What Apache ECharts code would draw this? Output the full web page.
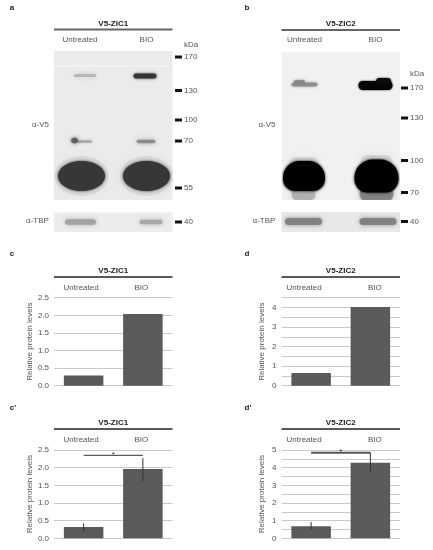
<!DOCTYPE html>
<html><head><meta charset="utf-8">
<style>html,body{margin:0;padding:0;background:#fff}#c{width:433px;height:550px}canvas{filter:blur(.35px)}</style>
<script src="https://cdn.jsdelivr.net/npm/echarts@6/dist/echarts.min.js"></script>
</head><body><div id="c"></div>
<script>
// ---- bar chart data ----
const categories = ['Untreated', 'BIO'];
const valuesC = [0.29, 2.04];
const valuesD = [0.65, 4.02];
const valuesCp = [0.32, 1.96];
const valuesDp = [0.68, 4.28];
const errorsCp = [[0.19, 0.425], [1.62, 2.27]];
const errorsDp = [[0.47, 0.92], [3.8, 4.85]];
const sigCp = [2.35];
const sigDp = [4.85];
// ---- blot data: [x, y, width, height, grey, alpha, blur, roundness] in gel units ----
const bandsAUpper = [
  [59, 15, 118, 1.5, 250, .5, 2, 1],
  [31, 24.5, 22, 3, 165, .7, 4, 1],
  [91, 25, 23, 5, 45, .9, 3, 1],
  [30, 90.5, 16, 2.5, 150, .7, 3, 1],
  [20.5, 89.5, 7, 6, 85, .85, 4, 0],
  [92, 90.5, 19, 3.5, 125, .8, 4, 1],
  [27.5, 125, 54, 40, 190, .35, 10, 0],
  [92.5, 125, 54, 40, 190, .35, 10, 0],
  [27.5, 125, 47, 30, 55, 1, 3, 0],
  [92.5, 125, 47, 30, 55, 1, 3, 0]
];
const bandsALower = [
  [26.5, 9.5, 31, 5.5, 160, .9, 4, 1],
  [97, 9.5, 23, 4.5, 165, .9, 4, 1]
];
const bandsBUpper = [
  [23, 32.5, 26, 4, 135, .85, 3, 1],
  [18, 30, 11, 4, 130, .85, 3, 1],
  [94, 33.5, 34, 9, 5, 1, 2, 1],
  [102, 29.5, 15, 7, 10, 1, 2, 1],
  [22, 142, 24, 14, 170, .8, 5, 1],
  [95, 142, 34, 16, 120, .8, 5, 1],
  [22.5, 112, 30, 14, 190, .5, 7, 1],
  [95, 110, 32, 14, 190, .5, 7, 1],
  [22.5, 124, 42, 30, 0, 1, 3, 2],
  [95, 124, 44, 33, 0, 1, 3, 2]
];
const bandsBLower = [
  [22, 9.5, 37, 7, 125, .9, 4, 1],
  [96.5, 9.5, 37, 7, 125, .9, 4, 1]
];
// ---- molecular-weight markers: [x, y, label] ----
const markersAUpper = [[124.5, 6, '170'], [124.5, 39.5, '130'], [124.5, 69, '100'], [124.5, 90, '70'], [124.5, 137, '55']];
const markersALower = [[124.5, 9.5, '40']];
const markersBUpper = [[123, 36, '170'], [123, 66, '130'], [123, 108.5, '100'], [123, 140.5, '70']];
const markersBLower = [[123, 9.5, '40']];

const FONT = 'Liberation Sans, Arial, sans-serif';
const TXT = '#555';
const grid = [], xAxis = [], yAxis = [], series = [], graphic = [], title = [];

function txt(x, y, s, o) {
  graphic.push({type: 'text', x, y, silent: true, style: Object.assign({
    text: s, font: '8px ' + FONT, fill: TXT, align: 'center', verticalAlign: 'middle'}, o || {})});
}
function header(x0, x1, y, s, col, lw) {
  graphic.push({type: 'line', silent: true, shape: {x1: x0, y1: y, x2: x1, y2: y},
    style: {stroke: col, lineWidth: lw}});
  title.push({text: s, left: (x0 + x1) / 2, top: y - 10.5, textAlign: 'center', padding: 0,
    textStyle: {fontFamily: FONT, fontSize: 8, fontWeight: 'bold', color: '#222', lineHeight: 9}});
}

function blot(x, y, w, h, bg, bands, markers) {
  const i = grid.length;
  grid.push({left: x, top: y, width: w, height: h, show: true, backgroundColor: bg, borderWidth: 0});
  xAxis.push({gridIndex: i, type: 'value', min: 0, max: w, show: false});
  yAxis.push({gridIndex: i, type: 'value', min: 0, max: h, inverse: true, show: false});
  series.push({
    type: 'custom', xAxisIndex: i, yAxisIndex: i, data: bands, silent: true, clip: true, z: 2,
    renderItem(p, api) {
      const c = api.coord([api.value(0), api.value(1)]);
      const s = api.size([api.value(2), api.value(3)]);
      const g = api.value(4), a = api.value(5), kind = api.value(7);
      const col = `rgba(${g},${g},${g},${a})`;
      const cs = p.coordSys;
      const style = {fill: col, shadowBlur: api.value(6), shadowColor: col};
      const clipPath = {type: 'rect', shape: {x: cs.x, y: cs.y, width: cs.width, height: cs.height}};
      if (kind === 0) {
        return {type: 'ellipse', shape: {cx: c[0], cy: c[1], rx: s[0] / 2, ry: s[1] / 2}, style, clipPath};
      }
      const r = kind === 1 ? s[1] / 2 : [s[1] * .55, s[1] * .55, s[1] * .4, s[1] * .4];
      return {type: 'rect', shape: {x: c[0] - s[0] / 2, y: c[1] - s[1] / 2, width: s[0], height: s[1], r}, style, clipPath};
    }
  });
  series.push({
    type: 'scatter', xAxisIndex: i, yAxisIndex: i, clip: false, silent: true, z: 3,
    symbol: 'rect', symbolSize: [7, 3], itemStyle: {color: '#111', opacity: 1},
    data: markers.map(m => ({value: [m[0], m[1]], name: m[2]})),
    label: {show: true, position: 'right', distance: 2, formatter: d => d.name,
      fontFamily: FONT, fontSize: 8, color: TXT}
  });
}

function bars(x, y, w, h, max, interval, values, fmt, namegap, pads, errors, sig, sigStyle) {
  const i = grid.length;
  grid.push({left: x, top: y, width: w, height: h});
  xAxis.push({gridIndex: i, type: 'category', data: categories, position: 'top',
    axisLine: {show: false}, axisTick: {show: false},
    axisLabel: {interval: 0, margin: 6, fontFamily: FONT, fontSize: 8, color: TXT,
      formatter: v => v === 'BIO' ? `{b|${v}}` : `{u|${v}}`,
      rich: {u: {padding: pads[0], fontFamily: FONT, fontSize: 8, color: TXT},
             b: {padding: pads[1], fontFamily: FONT, fontSize: 8, color: TXT}}}});
  yAxis.push({gridIndex: i, type: 'value', min: 0, max, interval,
    name: 'Relative protein levels', nameLocation: 'middle', nameGap: namegap, nameRotate: 90,
    nameTextStyle: {fontFamily: FONT, fontSize: 8, color: TXT},
    axisLine: {show: false}, axisTick: {show: false},
    axisLabel: {margin: 5, fontFamily: FONT, fontSize: 8, color: TXT, formatter: fmt},
    splitLine: {show: true, lineStyle: {color: '#c9c9c9', width: 1}}});
  series.push({type: 'bar', xAxisIndex: i, yAxisIndex: i, data: values, barWidth: '66.7%',
    itemStyle: {color: '#5a5a5a'}, silent: true, z: 2});
  if (errors) {
    series.push({type: 'custom', xAxisIndex: i, yAxisIndex: i, silent: true, z: 4,
      data: errors.map((e, k) => [k, e[0], e[1]]),
      renderItem(p, api) {
        const a = api.coord([api.value(0), api.value(1)]), b = api.coord([api.value(0), api.value(2)]);
        return {type: 'line', shape: {x1: a[0], y1: a[1], x2: b[0], y2: b[1]},
          style: {stroke: '#333', lineWidth: 1}};
      }});
    series.push({type: 'custom', xAxisIndex: i, yAxisIndex: i, silent: true, z: 5, clip: false,
      data: sig.map(v => [v]),
      renderItem(p, api) {
        const a = api.coord([0, api.value(0)]), b = api.coord([1, api.value(0)]);
        return {type: 'group', children: [
          {type: 'line', shape: {x1: a[0], y1: a[1], x2: b[0], y2: b[1]},
            style: {stroke: sigStyle.color, lineWidth: sigStyle.width}},
          {type: 'text', style: {text: '*', x: (a[0] + b[0]) / 2, y: a[1] - 1, font: '8px ' + FONT,
            fill: '#333', align: 'center', verticalAlign: 'middle'}}]};
      }});
  }
}

const f1 = v => v.toFixed(1);
const fInt = v => Number.isInteger(v) ? String(v) : '';

// Blots
blot(54, 51, 118.5, 149, '#e9ebec', bandsAUpper, markersAUpper);
blot(54, 212.5, 118.5, 19.5, '#ececec', bandsALower, markersALower);
blot(281.5, 52, 118.5, 148, '#f1f1f1', bandsBUpper, markersBUpper);
blot(281.5, 212, 118.5, 20, '#e8e8e8', bandsBLower, markersBLower);
// Bars
bars(54, 297.7, 118.5, 88, 2.5, 0.5, valuesC, f1, 20, [[0, 5, 0, 0], [0, 3, 0, 0]]);
bars(281.5, 297.7, 118.5, 88, 4.5, 0.5, valuesD, fInt, 16, [[0, 14, 0, 0], [0, 0, 0, 9]]);
bars(54, 450, 118.5, 88.3, 2.5, 0.5, valuesCp, f1, 20, [[0, 5, 0, 0], [0, 3, 0, 0]], errorsCp, sigCp, {color: '#333', width: 1});
bars(281.5, 450, 118.5, 88.3, 5, 0.5, valuesDp, fInt, 16, [[0, 14, 0, 0], [0, 0, 0, 9]], errorsDp, sigDp, {color: '#555', width: 2});

// Headers
header(54, 172.5, 29.5, 'V5-ZIC1', '#666', 2);
header(281.5, 400, 30, 'V5-ZIC2', '#666', 2);
header(54, 172.5, 277, 'V5-ZIC1', '#222', 1.3);
header(281.5, 400, 277, 'V5-ZIC2', '#222', 1.3);
header(54, 172.5, 429, 'V5-ZIC1', '#222', 1.3);
header(281.5, 400, 429, 'V5-ZIC2', '#222', 1.3);

// Blot labels
txt(80, 40, 'Untreated'); txt(146.5, 40, 'BIO');
txt(304.5, 40, 'Untreated'); txt(375.5, 40, 'BIO');
txt(191, 45, 'kDa'); txt(417, 74, 'kDa');
txt(40.5, 125, 'α-V5'); txt(37.5, 221, 'α-TBP');
txt(267, 125, 'α-V5'); txt(264, 221, 'α-TBP');
// Panel letters
const panelLetters = [[12, 8, 'a'], [247, 8, 'b'], [12, 254, 'c'], [247, 254, 'd'], [13, 408, "c'"], [248, 408, "d'"]];
panelLetters.forEach(l => txt(l[0], l[1], l[2], {font: 'bold 8px ' + FONT, fill: '#222'}));

const chart = echarts.init(document.getElementById('c'), null, {renderer: 'canvas'});
chart.setOption({animation: false, backgroundColor: '#fff', title, grid, xAxis, yAxis, series, graphic});
</script></body></html>
